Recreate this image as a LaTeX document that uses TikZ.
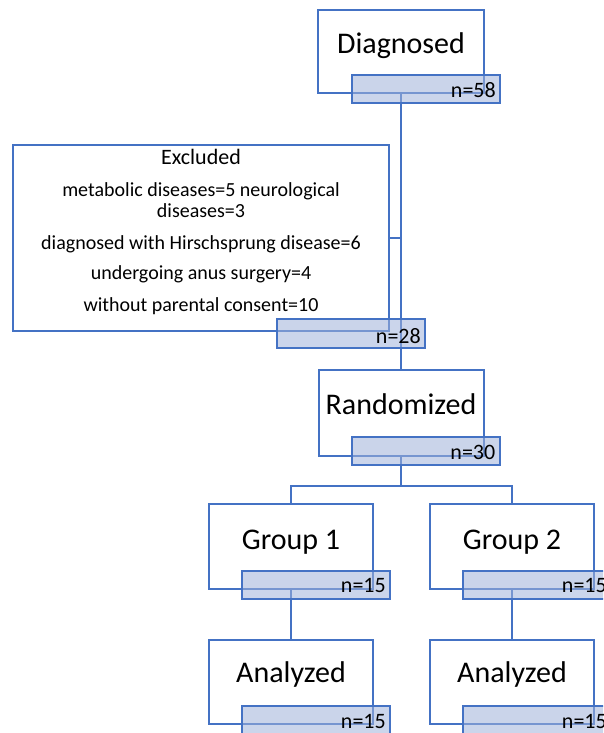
\documentclass[tikz,border=0pt]{standalone}
\usepackage{fontspec}
\setmainfont{Carlito}
\usetikzlibrary{calc}
\definecolor{boxblue}{RGB}{68,114,196}
\definecolor{tagblue}{RGB}{160,178,218}

\begin{document}
\begin{tikzpicture}[x=1pt,y=-1pt,
  stage/.style={draw=boxblue, line width=2pt, fill=white, inner sep=0pt},
  count/.style={draw=boxblue, line width=2pt, fill=tagblue, fill opacity=.55, draw opacity=1, minimum width=148pt, minimum height=28pt, inner sep=0pt},
  title/.style={anchor=base, font=\fontsize{30}{36}\selectfont},
  num/.style={anchor=base east, inner sep=0pt, font=\fontsize{22}{26}\selectfont},
  link/.style={draw=boxblue, line width=2pt}]
\useasboundingbox (0,0) rectangle (603,733);
\clip (0,0) rectangle (603,733);
\node[stage, minimum width=166pt, minimum height=83pt] (diag) at (401,51.5) {};
\node[stage, minimum width=376pt, minimum height=186pt] (excl) at (201,238) {};
\node[stage, minimum width=165pt, minimum height=86pt] (rand) at (401,413) {};
\node[stage, minimum width=164pt, minimum height=85pt] (grp1) at (291,546.5) {};
\node[stage, minimum width=164pt, minimum height=85pt] (grp2) at (512,546.5) {};
\node[stage, minimum width=164pt, minimum height=84pt] (ana1) at (291,682) {};
\node[stage, minimum width=164pt, minimum height=84pt] (ana2) at (512,682) {};
\coordinate (fork) at (401,486);
\draw[link] (diag.south) -- (rand.north);
\draw[link] (excl.east) -- (excl.east -| diag.south);
\draw[link] (rand.south) -- (fork);
\draw[link] (grp1.north) |- (fork) -| (grp2.north);
\draw[link] (grp1.south) -- (ana1.north);
\draw[link] (grp2.south) -- (ana2.north);
\node[count] (n58) at (426,89) {};
\node[count, minimum height=29pt] (n28) at (351,333.5) {};
\node[count] (n30) at (425.5,450.5) {};
\node[count] (n15a) at (316,584.5) {};
\node[count] (n15b) at (537,584.5) {};
\node[count] (n15c) at (316,720) {};
\node[count] (n15d) at (537,720) {};
\node[title] at ([yshift=-45pt]diag.north) {Diagnosed};
\node[title] at ([yshift=-45pt]rand.north) {Randomized};
\node[title] at ([yshift=-46pt]grp1.north) {Group 1};
\node[title] at ([yshift=-46pt]grp2.north) {Group 2};
\node[title] at ([yshift=-43pt]ana1.north) {Analyzed};
\node[title] at ([yshift=-43pt]ana2.north) {Analyzed};
\node[anchor=north, align=center, inner sep=0pt, font=\fontsize{20}{21}\selectfont] at ([yshift=-5pt]excl.north)
  {{\fontsize{22}{21}\selectfont Excluded}\\[11pt]
   metabolic diseases=5 neurological\\ diseases=3\\[11pt]
   diagnosed with Hirschsprung disease=6\\[9pt]
   undergoing anus surgery=4\\[11pt]
   without parental consent=10};
\node[num] at ([xshift=-5pt,yshift=6pt]n58.south east) {n=58};
\node[num] at ([xshift=-5pt,yshift=6pt]n28.south east) {n=28};
\node[num] at ([xshift=-5pt,yshift=6pt]n30.south east) {n=30};
\node[num] at ([xshift=-5pt,yshift=7pt]n15a.south east) {n=15};
\node[num] at ([xshift=-5pt,yshift=7pt]n15b.south east) {n=15};
\node[num] at ([xshift=-5pt,yshift=7pt]n15c.south east) {n=15};
\node[num] at ([xshift=-5pt,yshift=7pt]n15d.south east) {n=15};
\end{tikzpicture}
\end{document}
